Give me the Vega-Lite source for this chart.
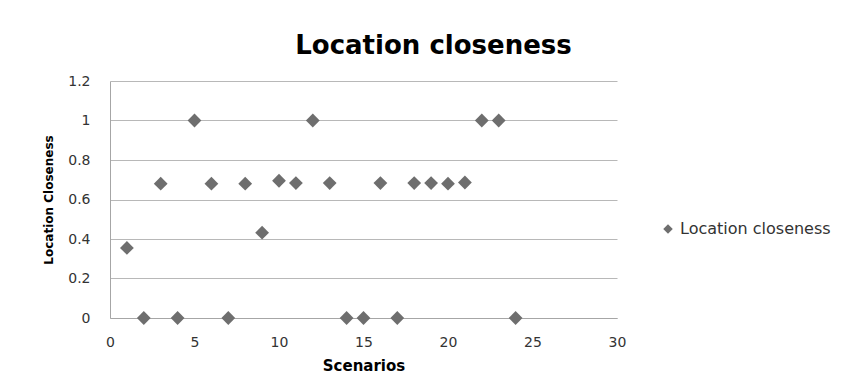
{
  "$schema": "https://vega.github.io/schema/vega-lite/v6.json",
  "autosize": {"type": "none"},
  "width": 507,
  "height": 237,
  "padding": {"left": 110, "top": 81, "right": 227, "bottom": 71},
  "background": "white",
  "title": {
    "text": "Location closeness",
    "font": "DejaVu Sans",
    "fontSize": 26,
    "fontWeight": "bold",
    "color": "#000000",
    "anchor": "middle",
    "dx": 70,
    "dy": 21,
    "baseline": "alphabetic",
    "offset": 15
  },
  "data": {
    "values": [
      {"scenario": 1, "closeness": 0.355, "series": "Location closeness"},
      {"scenario": 2, "closeness": 0, "series": "Location closeness"},
      {"scenario": 3, "closeness": 0.68, "series": "Location closeness"},
      {"scenario": 4, "closeness": 0, "series": "Location closeness"},
      {"scenario": 5, "closeness": 1, "series": "Location closeness"},
      {"scenario": 6, "closeness": 0.68, "series": "Location closeness"},
      {"scenario": 7, "closeness": 0, "series": "Location closeness"},
      {"scenario": 8, "closeness": 0.68, "series": "Location closeness"},
      {"scenario": 9, "closeness": 0.432, "series": "Location closeness"},
      {"scenario": 10, "closeness": 0.695, "series": "Location closeness"},
      {"scenario": 11, "closeness": 0.683, "series": "Location closeness"},
      {"scenario": 12, "closeness": 1, "series": "Location closeness"},
      {"scenario": 13, "closeness": 0.683, "series": "Location closeness"},
      {"scenario": 14, "closeness": 0, "series": "Location closeness"},
      {"scenario": 15, "closeness": 0, "series": "Location closeness"},
      {"scenario": 16, "closeness": 0.683, "series": "Location closeness"},
      {"scenario": 17, "closeness": 0, "series": "Location closeness"},
      {"scenario": 18, "closeness": 0.683, "series": "Location closeness"},
      {"scenario": 19, "closeness": 0.683, "series": "Location closeness"},
      {"scenario": 20, "closeness": 0.68, "series": "Location closeness"},
      {"scenario": 21, "closeness": 0.686, "series": "Location closeness"},
      {"scenario": 22, "closeness": 1, "series": "Location closeness"},
      {"scenario": 23, "closeness": 1, "series": "Location closeness"},
      {"scenario": 24, "closeness": 0, "series": "Location closeness"}
    ]
  },
  "mark": {"type": "point", "filled": true, "opacity": 1, "size": 190},
  "encoding": {
    "x": {
      "field": "scenario",
      "type": "quantitative",
      "scale": {"domain": [0, 30], "nice": false, "zero": true},
      "axis": {
        "title": "Scenarios",
        "values": [0, 5, 10, 15, 20, 25, 30],
        "grid": false,
        "ticks": false,
        "domain": true,
        "domainColor": "#a6a6a6",
        "labelFlush": false,
        "labelFont": "DejaVu Sans",
        "labelFontSize": 14,
        "labelColor": "#333333",
        "labelPadding": 17,
        "titleFont": "DejaVu Sans",
        "titleFontSize": 15,
        "titleFontWeight": "bold",
        "titleColor": "#000000",
        "titlePadding": 9
      }
    },
    "y": {
      "field": "closeness",
      "type": "quantitative",
      "scale": {"domain": [0, 1.2], "nice": false},
      "axis": {
        "title": "Location Closeness",
        "values": [0, 0.2, 0.4, 0.6, 0.8, 1, 1.2],
        "format": "~g",
        "grid": true,
        "gridColor": "#b8b8b8",
        "gridWidth": 1,
        "ticks": false,
        "domain": true,
        "domainColor": "#a6a6a6",
        "labelFlush": false,
        "labelFont": "DejaVu Sans",
        "labelFontSize": 14,
        "labelColor": "#333333",
        "labelPadding": 20,
        "titleFont": "DejaVu Sans",
        "titleFontSize": 12,
        "titleFontWeight": "bold",
        "titleColor": "#000000",
        "titlePadding": 12
      }
    },
    "color": {
      "field": "series",
      "type": "nominal",
      "scale": {"range": ["#6e6e6e"]},
      "legend": {
        "title": null,
        "orient": "none",
        "legendX": 550,
        "legendY": 140,
        "labelFont": "DejaVu Sans",
        "labelFontSize": 16,
        "labelColor": "#333333",
        "symbolSize": 90,
        "symbolType": "diamond",
        "labelOffset": 4
      }
    },
    "shape": {
      "field": "series",
      "type": "nominal",
      "scale": {"range": ["diamond"]},
      "legend": null
    }
  },
  "config": {
    "view": {"stroke": null}
  }
}
